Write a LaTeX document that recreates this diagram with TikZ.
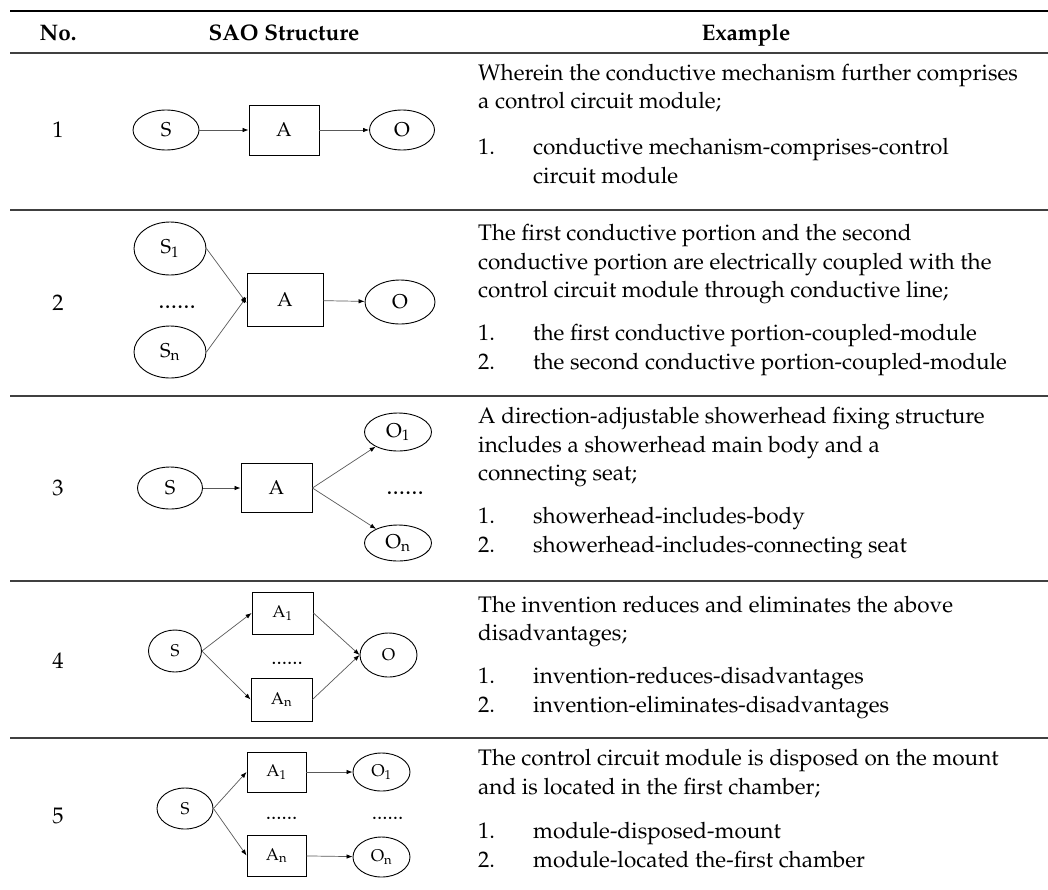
\documentclass[tikz,border=0pt]{standalone}
\usepackage[T1]{fontenc}
\usepackage{mathpazo}
\usetikzlibrary{arrows.meta,shapes.geometric}

\begin{document}
\begin{tikzpicture}[x=1pt,y=-1pt,
  body/.style={font=\fontsize{22.5}{29}\selectfont, anchor=base west, inner sep=0pt},
  rownum/.style={font=\fontsize{22.5}{29}\selectfont, anchor=base, inner sep=0pt},
  head/.style={font=\fontsize{22.5}{29}\selectfont\bfseries, anchor=base, inner sep=0pt},
  big/.style={font=\fontsize{20}{24}\selectfont},
  small/.style={font=\fontsize{17}{20}\selectfont},
  oval/.style={draw, ellipse, inner sep=0pt, line width=0.9pt},
  box/.style={draw, rectangle, inner sep=0pt, line width=0.9pt},
  dots/.style={anchor=base, inner sep=0pt},
  link/.style={draw=black!65, line width=0.7pt, -{Latex[length=6pt,width=4.5pt,color=black]}},
  toprule/.style={line width=1.8pt, black},
  midrule/.style={line width=1.1pt, black!75},
]
\useasboundingbox (0,0) rectangle (1048,889);

% ---- table rules ----
\draw[toprule] (10,11) -- (1048,11);
\draw[midrule] (10,53) -- (1048,53);
\draw[midrule] (10,210) -- (1048,210);
\draw[midrule] (10,396) -- (1048,396);
\draw[midrule] (10,581) -- (1048,581);
\draw[midrule] (10,738) -- (1048,738);

% ---- header ----
\node[head] (hno)  at (58,40)  {No.};
\node[head] (hsao) at (284,40) {SAO Structure};
\node[head] (hex)  at (746,40) {Example};

% ---- row numbers ----
\node[rownum] (n1) at (58,137) {1};
\node[rownum] (n2) at (58,310) {2};
\node[rownum] (n3) at (58,495) {3};
\node[rownum] (n4) at (58,668) {4};
\node[rownum] (n5) at (58,823) {5};

% ---- row 1: S -> A -> O ----
\begin{scope}[big]
\node[oval, minimum width=66pt, minimum height=40pt] (aS) at (166,130) {S};
\node[box,  minimum width=70pt, minimum height=50pt] (aA) at (284,130) {A};
\node[oval, minimum width=65pt, minimum height=40pt] (aO) at (402,130) {O};
\end{scope}
\draw[link] (aS) -- (aA);
\draw[link] (aA) -- (aO);

% ---- row 2: S1..Sn -> A -> O ----
\begin{scope}[big]
\node[oval, minimum width=72pt, minimum height=53pt] (bS1) at (170,248.5) {S\textsubscript{1}};
\node[dots, font=\fontsize{25}{28}\selectfont] (bdots) at (177,308) {......};
\node[oval, minimum width=72pt, minimum height=52pt] (bSn) at (170,352) {S\textsubscript{n}};
\node[box,  minimum width=76pt, minimum height=53pt] (bA) at (285,300) {A};
\node[oval, minimum width=70pt, minimum height=44pt] (bO) at (400,302) {O};
\end{scope}
\draw[link] (bS1.east) -- ([yshift=-3pt]bA.west);
\draw[link] (bSn.east) -- ([yshift=3pt]bA.west);
\draw[link] (bA) -- (bO);

% ---- row 3: S -> A -> O1..On ----
\begin{scope}[big]
\node[oval, minimum width=65pt, minimum height=42pt] (cS) at (170,488) {S};
\node[box,  minimum width=71pt, minimum height=49pt] (cA) at (276.5,488) {A};
\node[oval, minimum width=67pt, minimum height=38pt] (cO1) at (398,432) {O\textsubscript{1}};
\node[dots, font=\fontsize{25}{28}\selectfont] (cdots) at (405,494) {......};
\node[oval, minimum width=67pt, minimum height=36pt] (cOn) at (398,543) {O\textsubscript{n}};
\end{scope}
\draw[link] (cS) -- (cA);
\draw[link] (cA.east) -- (cO1);
\draw[link] (cA.east) -- (cOn);

% ---- row 4: S -> A1..An -> O ----
\begin{scope}[small]
\node[oval, minimum width=53pt, minimum height=42pt] (dS) at (175,651) {S};
\node[box,  minimum width=61pt, minimum height=42pt] (dA1) at (282.5,613) {A\textsubscript{1}};
\node[dots, font=\fontsize{21}{24}\selectfont] (ddots) at (287,664) {......};
\node[box,  minimum width=61pt, minimum height=43pt] (dAn) at (281.5,699.5) {A\textsubscript{n}};
\node[oval, minimum width=57pt, minimum height=44pt] (dO) at (388.5,655) {O};
\end{scope}
\draw[link] (dS.east) -- (dA1.west);
\draw[link] (dS.east) -- (dAn.west);
\draw[link] (dA1.east) -- (dO.west);
\draw[link] (dAn.east) -- (dO.west);

% ---- row 5: S -> A1..An -> O1..On ----
\begin{scope}[small]
\node[oval, minimum width=56pt, minimum height=41pt] (eS) at (185,808.5) {S};
\node[box,  minimum width=59pt, minimum height=40pt] (eA1) at (276.5,772) {A\textsubscript{1}};
\node[box,  minimum width=59pt, minimum height=41pt] (eAn) at (276.5,855.5) {A\textsubscript{n}};
\node[oval, minimum width=57pt, minimum height=38pt] (eO1) at (381.5,772) {O\textsubscript{1}};
\node[oval, minimum width=57pt, minimum height=40pt] (eOn) at (381.5,857) {O\textsubscript{n}};
\node[dots, font=\fontsize{21}{24}\selectfont] (edots1) at (281.5,819) {......};
\node[dots, font=\fontsize{21}{24}\selectfont] (edots2) at (387.5,819) {......};
\end{scope}
\draw[link] (eS.east) -- (eA1.west);
\draw[link] (eS.east) -- (eAn.west);
\draw[link] (eA1) -- (eO1);
\draw[link] (eAn) -- (eOn);

% ---- example texts ----
\node[body] (t1a) at (478,80)  {Wherein the conductive mechanism further comprises};
\node[body] (t1b) at (478,108) {a control circuit module;};
\node[body] (t1n1) at (478,154) {1.};
\node[body] (t1i1) at (533,154) {conductive mechanism-comprises-control};
\node[body] (t1i1b) at (533,183) {circuit module};

\node[body] (t2a) at (478,240) {The first conductive portion and the second};
\node[body] (t2b) at (478,269) {conductive portion are electrically coupled with the};
\node[body] (t2c) at (478,297) {control circuit module through conductive line;};
\node[body] (t2n1) at (478,340) {1.};
\node[body] (t2i1) at (533,340) {the first conductive portion-coupled-module};
\node[body] (t2n2) at (478,369) {2.};
\node[body] (t2i2) at (533,369) {the second conductive portion-coupled-module};

\node[body] (t3a) at (478,423) {A direction-adjustable showerhead fixing structure};
\node[body] (t3b) at (478,452) {includes a showerhead main body and a};
\node[body] (t3c) at (478,480) {connecting seat;};
\node[body] (t3n1) at (478,523) {1.};
\node[body] (t3i1) at (533,523) {showerhead-includes-body};
\node[body] (t3n2) at (478,552) {2.};
\node[body] (t3i2) at (533,552) {showerhead-includes-connecting seat};

\node[body] (t4a) at (478,612) {The invention reduces and eliminates the above};
\node[body] (t4b) at (478,640) {disadvantages;};
\node[body] (t4n1) at (478,683) {1.};
\node[body] (t4i1) at (533,683) {invention-reduces-disadvantages};
\node[body] (t4n2) at (478,712) {2.};
\node[body] (t4i2) at (533,712) {invention-eliminates-disadvantages};

\node[body] (t5a) at (478,765) {The control circuit module is disposed on the mount};
\node[body] (t5b) at (478,794) {and is located in the first chamber;};
\node[body] (t5n1) at (478,838) {1.};
\node[body] (t5i1) at (533,838) {module-disposed-mount};
\node[body] (t5n2) at (478,867) {2.};
\node[body] (t5i2) at (533,867) {module-located the-first chamber};
\end{tikzpicture}
\end{document}
